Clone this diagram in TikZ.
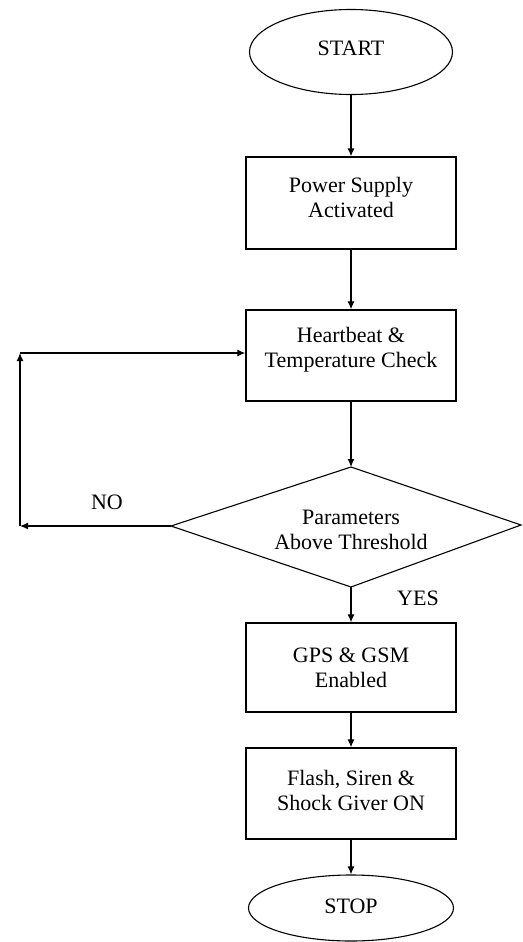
\documentclass[tikz,border=0pt]{standalone}
\usepackage{fontspec}
\setmainfont{Liberation Serif}
\usetikzlibrary{arrows.meta,shapes.geometric,calc}
\begin{document}
\begin{tikzpicture}[x=1pt,y=-1pt,
  box/.style={draw,line width=1.3pt,minimum width=210pt,inner sep=0pt},
  oval/.style={draw,line width=1.1pt,ellipse,inner sep=0pt},
  txt/.style={font=\fontsize{22}{25}\selectfont,align=center,inner sep=0pt},
  arr/.style={line width=1.2pt,-{Latex[length=8pt,width=7pt]}},
  lbl/.style={font=\fontsize{22}{25}\selectfont,inner sep=0pt}]
\useasboundingbox (0,0) rectangle (522,942);
% shapes
\node[oval,minimum width=203pt,minimum height=85pt] (start) at (351,52) {};
\node[txt] (starttxt) at (351,48) {START};
\node[box,minimum height=92pt] (power) at (351,203) {};
\node[txt] (powertxt) at (351,197) {Power Supply\\Activated};
\node[box,minimum height=91pt] (hb) at (351,355.5) {};
\node[txt] (hbtxt) at (351,349.5) {Heartbeat \&\\Temperature Check};
\coordinate (dT) at (351,467);
\coordinate (dL) at (171,526);
\coordinate (dB) at (351,587);
\coordinate (dR) at (521,525);
\draw[line width=1.1pt] (dT) -- (dR) -- (dB) -- (dL) -- cycle;
\node[txt] (dtxt) at (351,530) {Parameters\\Above Threshold};
\node[box,minimum height=89pt] (gps) at (351,667.5) {};
\node[txt] (gpstxt) at (351,668) {GPS \& GSM\\Enabled};
\node[box,minimum height=91pt] (flash) at (351,793.5) {};
\node[txt] (flashtxt) at (351,790) {Flash, Siren \&\\Shock Giver ON};
\node[oval,minimum width=205pt,minimum height=66pt] (stop) at (351,908) {};
\node[txt] (stoptxt) at (351,906) {STOP};
% connectors
\draw[arr] (start.south) -- (power.north);
\draw[arr] (power.south) -- (hb.north);
\draw[arr] (hb.south) -- (dT);
\draw[arr] (dB) -- (gps.north);
\draw[arr] (gps.south) -- (flash.north);
\draw[arr] (flash.south) -- (stop.north);
\coordinate (lb) at (20,526);
\coordinate (lt) at (20,353);
\draw[arr] (dL) -- (lb);
\draw[arr] (lb) -- (lt);
\draw[arr] (lt) -- (lt -| hb.west);
% labels
\node[lbl] (no) at (107,502) {NO};
\node[lbl] (yes) at (418,598) {YES};
\end{tikzpicture}
\end{document}
